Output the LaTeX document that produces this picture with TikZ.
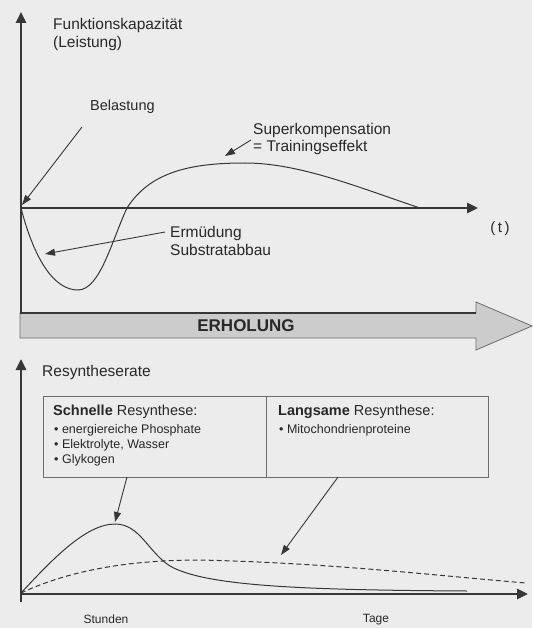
\documentclass[tikz,border=0pt]{standalone}
\usepackage{fontspec}
\setmainfont{Liberation Sans}
\usetikzlibrary{arrows.meta}
\definecolor{paper}{RGB}{236,236,236}
\definecolor{ink}{RGB}{55,55,55}
\definecolor{textink}{RGB}{40,40,40}
\definecolor{bandfill}{RGB}{204,204,204}
\definecolor{bandedge}{RGB}{110,110,110}
\tikzset{
  axis/.style={draw=ink, line width=2.6pt, -{Triangle[length=11pt,width=10pt]}},
  axisplain/.style={draw=ink, line width=2.6pt},
  curve/.style={draw=ink, line width=1pt},
  pointer/.style={draw=ink, line width=0.9pt, -{Triangle[length=10pt,width=7pt]}},
  lbl/.style={inner sep=0pt, anchor=west, text=textink, font=\fontsize{15.5}{17}\selectfont},
  boxhead/.style={inner sep=0pt, anchor=west, text=textink, font=\fontsize{14.5}{16}\selectfont},
  boxitem/.style={inner sep=0pt, anchor=west, text=textink, font=\fontsize{12.5}{14}\selectfont},
  infobox/.style={draw=bandedge, line width=0.8pt}
}
\begin{document}
\begin{tikzpicture}[x=1pt,y=-1pt]
\useasboundingbox (0,0) rectangle (532,628);
\fill[paper] (0,0) rectangle (532,628);

% ---------- upper chart: performance capacity over time ----------
\coordinate (yTop) at (21,12);
\coordinate (yBase) at (21,313);
\coordinate (origin) at (21,208);
\coordinate (tEnd) at (478,208);

% recovery band
\filldraw[fill=bandfill, draw=bandedge, line width=0.8pt]
  (20,313) -- (476,313) -- (476,302) -- (532,326) -- (476,350) -- (476,338) -- (20,338) -- cycle;
\draw[axisplain] (20,313) -- (476,313);
\node[inner sep=0pt, text=textink, font=\fontsize{17}{19}\selectfont\bfseries] (erh) at (246,326) {ERHOLUNG};

\draw[axis] (yBase) -- (yTop);
\draw[axis] (origin) -- (tEnd);
\node[inner sep=0pt, text=textink, font=\fontsize{15}{17}\selectfont] (t) at (500,229) {(\,t\,)};

% training curve
\draw[curve] (origin) .. controls (35,262) and (55,290) .. (78,290)
  .. controls (100,290) and (112,240) .. (127,208)
  .. controls (150,172) and (190,163) .. (245,163)
  .. controls (300,163) and (360,188) .. (420,208);

\node[lbl] (fk) at (53,25) {Funktionskapazität};
\node[lbl] (fl) at (53,43) {(Leistung)};
\node[lbl, font=\fontsize{14.5}{17}\selectfont] (bel) at (90,107) {Belastung};
\node[lbl] (sk1) at (253,130) {Superkompensation};
\node[lbl] (sk2) at (253,147) {= Trainingseffekt};
\node[lbl] (erm1) at (170,233) {Ermüdung};
\node[lbl] (erm2) at (170,250) {Substratabbau};

\coordinate (belFrom) at (82,127);
\coordinate (belTo) at (22,205);
\coordinate (skFrom) at (251,140);
\coordinate (skTo) at (225,156);
\coordinate (ermFrom) at (165,232);
\coordinate (ermTo) at (45,254);
\draw[pointer] (belFrom) -- (belTo);
\draw[pointer] (skFrom) -- (skTo);
\draw[pointer] (ermFrom) -- (ermTo);

% ---------- lower chart: resynthesis rate ----------
\coordinate (rTop) at (21,359);
\coordinate (rBase) at (21,602);
\coordinate (rOrigin) at (21,594);
\coordinate (rEnd) at (528,594);
\draw[axis] (rBase) -- (rTop);
\draw[axis] (rOrigin) -- (rEnd);
\node[lbl] (rs) at (42,372) {Resyntheserate};

% fast (solid) and slow (dashed) resynthesis
\coordinate (c0) at (21,593);
\draw[curve] (c0) .. controls (50,562) and (85,524) .. (115,524)
  .. controls (140,524) and (148,552) .. (170,566)
  .. controls (205,586) and (300,590) .. (467,591);
\draw[curve, dashed, dash pattern=on 5pt off 3pt] (c0) .. controls (70,570) and (130,560) .. (200,560)
  .. controls (330,563) and (430,575) .. (526,583);

% information boxes
\draw[infobox] (43,396) rectangle (488,477);
\draw[infobox] (266,396) -- (266,477);
\node[boxhead] (sh) at (53,412) {\textbf{Schnelle} Resynthese:};
\node[boxitem] (s1) at (54,430) {\textbullet\ energiereiche Phosphate};
\node[boxitem] (s2) at (54,445) {\textbullet\ Elektrolyte, Wasser};
\node[boxitem] (s3) at (54,460) {\textbullet\ Glykogen};
\node[boxhead] (lh) at (278,412) {\textbf{Langsame} Resynthese:};
\node[boxitem] (l1) at (279,430) {\textbullet\ Mitochondrienproteine};

\coordinate (fastFrom) at (127,477);
\coordinate (fastTo) at (115,522);
\coordinate (slowFrom) at (338,477);
\coordinate (slowTo) at (281,555);
\draw[pointer] (fastFrom) -- (fastTo);
\draw[pointer] (slowFrom) -- (slowTo);

\node[inner sep=0pt, text=textink, font=\fontsize{12}{14}\selectfont] (std) at (106,619) {Stunden};
\node[inner sep=0pt, text=textink, font=\fontsize{12}{14}\selectfont] (tg) at (376,620) {Tage};
\end{tikzpicture}
\end{document}
